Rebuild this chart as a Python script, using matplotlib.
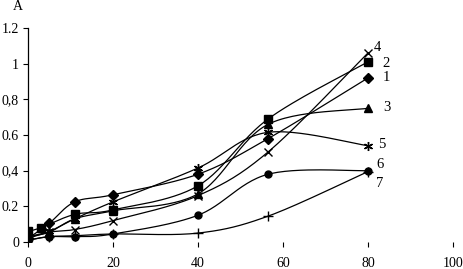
import numpy as np
import matplotlib
matplotlib.use('Agg')
import matplotlib.pyplot as plt

plt.rcParams['font.family'] = ['Liberation Serif', 'DejaVu Serif']

# time points
t = [0, 5, 11, 20, 40, 56.5, 80]
t2 = [0, 3, 11, 20, 40, 56.5, 80]

s1 = [0.02, 0.105, 0.225, 0.265, 0.38, 0.58, 0.92]
s2 = [0.06, 0.08, 0.155, 0.18, 0.315, 0.69, 1.01]
s3 = [0.03, 0.055, 0.13, 0.175, 0.27, 0.66, 0.75]
s4 = [0.02, 0.055, 0.07, 0.12, 0.26, 0.505, 1.06]
s5 = [0.03, 0.06, 0.13, 0.225, 0.415, 0.615, 0.54]
s6 = [0.01, 0.03, 0.03, 0.045, 0.15, 0.38, 0.40]
s7 = [0.01, 0.03, 0.035, 0.045, 0.05, 0.145, 0.395]

names = ['1', '2', '3', '4', '5', '6', '7']
markers = ['D', 's', '^', 'x', (6, 2, 0), 'o', '+']
msizes = [5, 5.5, 5.5, 5.5, 6.5, 5, 6.5]

xticks = [0, 20, 40, 60, 80, 100]
yticks = [0, 0.2, 0.4, 0.6, 0.8, 1.0, 1.2]
ylabels = ['0', '0.2', '0,4', '0.6', '0,8', '1', '1.2']

# label positions next to the line ends
label_pos = {'4': (81.4, 1.09), '2': (83.3, 1.0), '1': (83.5, 0.92), '3': (83.5, 0.757),
             '5': (82.4, 0.544), '6': (81.9, 0.437), '7': (81.9, 0.33)}


def smooth(x, y, n=30):
    # Catmull-Rom style smoothing like spreadsheet "smoothed lines"
    x = np.asarray(x, float)
    y = np.asarray(y, float)
    px, py = [], []
    for i in range(len(x) - 1):
        i0 = max(i - 1, 0)
        i3 = min(i + 2, len(x) - 1)
        c1x = x[i] + (x[i + 1] - x[i0]) / 6
        c1y = y[i] + (y[i + 1] - y[i0]) / 6
        c2x = x[i + 1] - (x[i3] - x[i]) / 6
        c2y = y[i + 1] - (y[i3] - y[i]) / 6
        u = np.linspace(0, 1, n)
        b0 = (1 - u) ** 3
        b1 = 3 * (1 - u) ** 2 * u
        b2 = 3 * (1 - u) * u ** 2
        b3 = u ** 3
        px.extend(b0 * x[i] + b1 * c1x + b2 * c2x + b3 * x[i + 1])
        py.extend(b0 * y[i] + b1 * c1y + b2 * c2y + b3 * y[i + 1])
    return px, py


fig = plt.figure(figsize=(4.63, 2.69), dpi=100)
ax = fig.add_axes([28 / 463, 27 / 269, 425 / 463, 214 / 269])

series = [(t, s1), (t2, s2), (t, s3), (t, s4), (t, s5), (t, s6), (t, s7)]
for (xs, ys), m, ms in zip(series, markers, msizes):
    cx, cy = smooth(xs, ys)
    ax.plot(cx, cy, color='black', lw=0.9)
    ax.plot(xs, ys, ls='none', marker=m, ms=ms, color='black', mew=1.0)

for nm in names:
    x0, y0 = label_pos[nm]
    ax.text(x0, y0, nm, fontsize=10.5, ha='left', va='center')

ax.set_xlim(0, 100)
ax.set_ylim(0, 1.2)
ax.set_xticks(xticks)
ax.set_xticklabels([str(v) for v in xticks])
ax.set_yticks(yticks)
ax.set_yticklabels(ylabels)
ax.tick_params(axis='both', labelsize=10, direction='out', length=3.5, width=0.8, color='black')
ax.tick_params(axis='x', pad=7)
ax.tick_params(axis='y', pad=3)

ax.spines['top'].set_visible(False)
ax.spines['right'].set_visible(False)
ax.spines['bottom'].set_visible(False)
ax.spines['left'].set_linewidth(0.9)

fig.text(18 / 463, 1 - 7 / 269, 'A', fontsize=10, ha='center', va='center')

fig.savefig('out.png', dpi=100)
